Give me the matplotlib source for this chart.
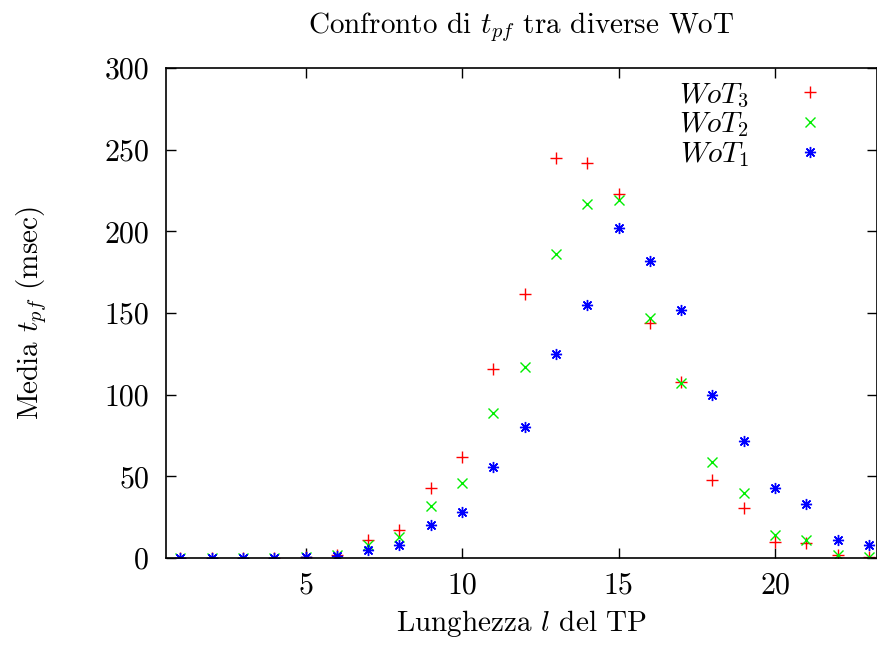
import matplotlib.pyplot as plt
import numpy as np

plt.rcParams['font.family'] = 'serif'
plt.rcParams['font.serif'] = ['cmr10', 'DejaVu Serif']
plt.rcParams['mathtext.fontset'] = 'cm'
plt.rcParams['axes.unicode_minus'] = False

# data
lunghezza = np.arange(1, 24)
wot3 = [0, 0, 0, 0, 1, 2, 11, 17, 43, 62, 116, 162, 245, 242, 223, 144, 108, 48, 31, 10, 9, 2, 0.5]
wot2 = [0, 0, 0, 0, 1, 2, 8, 13, 32, 46, 89, 117, 186, 217, 219, 147, 107, 59, 40, 14, 11, 2, 1]
wot1 = [0, 0, 0, 0, 1, 1.5, 5, 8, 20, 28, 56, 80, 125, 155, 202, 182, 152, 100, 72, 43, 33, 11, 8]

fig = plt.figure(figsize=(8.77, 6.49), dpi=100)
ax = fig.add_axes([0.189, 0.140, 0.811, 0.755])

ax.plot(lunghezza, wot3, linestyle='none', marker='+', color='#ff0000',
        markersize=8, markeredgewidth=1.0, label=r'$WoT_3$')
ax.plot(lunghezza, wot2, linestyle='none', marker='x', color='#00ee00',
        markersize=7, markeredgewidth=1.0, label=r'$WoT_2$')
ax.plot(lunghezza, wot1, linestyle='none', marker=(8, 2, 0), color='#0000ff',
        markersize=8, markeredgewidth=1.0, label=r'$WoT_1$')

ax.set_xlim(0.53, 23.26)
ax.set_ylim(0, 300)
ax.set_xticks([5, 10, 15, 20])
ax.set_yticks(np.arange(0, 301, 50))
ax.tick_params(direction='in', top=True, right=True, length=7, width=1,
               labelsize=21.5)
ax.tick_params(axis='y', pad=12)
ax.tick_params(axis='x', pad=10)
for s in ax.spines.values():
    s.set_linewidth(1.2)

ax.set_xlabel(r'Lunghezza $l$ del TP', fontsize=21, labelpad=6)
ax.set_ylabel(r'Media $t_{pf}$ (msec)', fontsize=21, labelpad=40)
ax.set_title(r'Confronto di $t_{pf}$ tra diverse WoT', fontsize=21, pad=25)

leg = ax.legend(loc='upper right', frameon=False, fontsize=21, markerfirst=False,
                handlelength=1.0, handletextpad=1.6, labelspacing=0.03,
                borderpad=0.2, borderaxespad=0.0, bbox_to_anchor=(0.935, 0.985))

fig.savefig('out.png', dpi=100)
